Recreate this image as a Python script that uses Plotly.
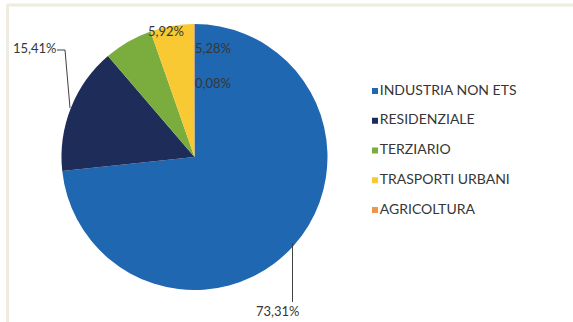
import plotly.graph_objects as go

# Ripartizione dei consumi per settore
categories = ["INDUSTRIA NON ETS", "RESIDENZIALE", "TERZIARIO", "TRASPORTI URBANI", "AGRICOLTURA"]
shares = [73.31, 15.41, 5.92, 5.28, 0.08]
colors = ["#1f67b1", "#1d2c58", "#7aad3d", "#f9c933", "#ef944a"]

W, H = 573, 322
FONT = "Lato"
TEXT_COLOR = "#363636"


def pct(v):
    return f"{v:.2f}%".replace(".", ",")


fig = go.Figure()

fig.add_trace(go.Pie(
    labels=categories,
    values=shares,
    sort=False,
    direction="clockwise",
    rotation=0,
    marker=dict(colors=colors, line=dict(width=0)),
    textinfo="none",
    hoverinfo="label+percent",
    showlegend=False,
    domain=dict(x=[61.5 / W, 327.5 / W], y=[(H - 290) / H, (H - 24) / H]),
))

# Legend drawn as a column of square markers with labels
fig.add_trace(go.Scatter(
    x=[0] * len(categories),
    y=list(range(len(categories))),
    mode="markers+text",
    marker=dict(symbol="square", size=6, color=colors),
    text=categories,
    textposition="middle right",
    textfont=dict(family=FONT, size=14, color=TEXT_COLOR),
    hoverinfo="skip",
    showlegend=False,
    cliponaxis=False,
))

# Data labels (text from the values, positions per label)
label_pos = {
    0: (278, 311),
    1: (35, 48),
    2: (166, 31),
    3: (213, 48),
    4: (213, 83),
}
annotations = []
for i, (px, py) in label_pos.items():
    annotations.append(dict(
        x=px / W, y=1 - py / H, xref="paper", yref="paper",
        text=pct(shares[i]), showarrow=False,
        font=dict(family=FONT, size=13, color=TEXT_COLOR),
        xanchor="center", yanchor="middle",
    ))

shapes = []
# leader lines
line_style = dict(color="#404040", width=1)
for pts in ([(57, 50), (65, 50), (70, 108)], [(292.5, 243), (292.5, 302)]):
    for (xa, ya), (xb, yb) in zip(pts[:-1], pts[1:]):
        shapes.append(dict(type="line", xref="paper", yref="paper",
                           x0=xa / W, y0=1 - ya / H, x1=xb / W, y1=1 - yb / H,
                           line=line_style))
# chart frame (top and left edges)
frame = dict(color="#eeebe1", width=3)
shapes.append(dict(type="line", xref="paper", yref="paper",
                   x0=7 / W, y0=1 - 5 / H, x1=1, y1=1 - 5 / H, line=frame))
shapes.append(dict(type="line", xref="paper", yref="paper",
                   x0=7.5 / W, y0=1 - 5 / H, x1=7.5 / W, y1=0, line=frame))

fig.update_layout(
    width=W, height=H,
    margin=dict(l=0, r=0, t=0, b=0),
    paper_bgcolor="white",
    plot_bgcolor="rgba(0,0,0,0)",
    xaxis=dict(domain=[375 / W, 560 / W], range=[0, 1], visible=False, fixedrange=True),
    yaxis=dict(domain=[(H - 210) / H, (H - 91) / H], range=[4, 0], visible=False, fixedrange=True),
    annotations=annotations,
    shapes=shapes,
    showlegend=False,
)

fig.write_html("out.html")
